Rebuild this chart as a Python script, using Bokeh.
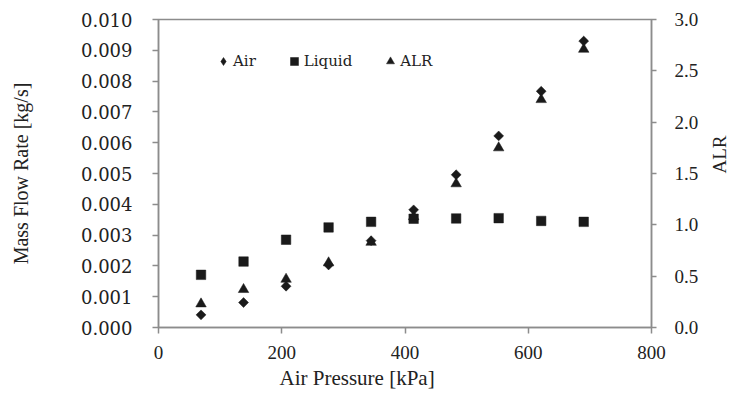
import math
from bokeh.plotting import figure
from bokeh.models import (Range1d, LinearAxis, FixedTicker, PrintfTickFormatter,
                          Legend, LegendItem, Title, ColumnDataSource)
from bokeh.embed import file_html
from bokeh.resources import INLINE

# ---- data ----
pressure = [69, 138, 207, 276, 345, 414, 483, 552, 621, 690]
air = [0.00041, 0.00081, 0.00134, 0.00203, 0.00282, 0.00382, 0.00496, 0.00622, 0.00767, 0.00930]
liquid = [0.00171, 0.00214, 0.00285, 0.00325, 0.00343, 0.00353, 0.00354, 0.00355, 0.00346, 0.00343]
alr = [0.23, 0.37, 0.47, 0.63, 0.83, 1.08, 1.40, 1.75, 2.22, 2.71]

x_ticks = [0, 200, 400, 600, 800]
left_ticks = [0.000, 0.001, 0.002, 0.003, 0.004, 0.005, 0.006, 0.007, 0.008, 0.009, 0.010]
right_ticks = [0.0, 0.5, 1.0, 1.5, 2.0, 2.5, 3.0]

x_title = "Air Pressure [kPa]"
y_title = "Mass Flow Rate [kg/s]"
y2_title = "ALR"
series_names = ["Air", "Liquid", "ALR"]

AX = "#8c8c8c"
INK = "#1a1a1a"
TXT = "#222222"
SERIF = "Liberation Serif"
SERIF2 = "DejaVu Serif"

p = figure(width=743, height=393, output_backend="svg", toolbar_location=None,
           x_range=Range1d(0, 800), y_range=Range1d(0, 0.010),
           min_border_left=158, min_border_right=85, min_border_top=19, min_border_bottom=66)
p.extra_y_ranges = {"alr": Range1d(0, 3.0)}
p.grid.visible = False
p.outline_line_color = AX
p.outline_line_width = 1.5
p.background_fill_color = "white"
p.border_fill_color = "white"

# bottom axis
xa = p.xaxis[0]
xa.ticker = FixedTicker(ticks=x_ticks)
xa.axis_line_color = AX
xa.axis_line_width = 1.5
xa.major_tick_line_color = AX
xa.major_tick_line_width = 1.5
xa.major_tick_in = 0
xa.major_tick_out = 6
xa.minor_tick_line_color = None
xa.major_label_text_font = SERIF
xa.major_label_text_font_size = "19px"
xa.major_label_text_color = TXT
xa.major_label_standoff = 12

# left axis
ya = p.yaxis[0]
ya.ticker = FixedTicker(ticks=left_ticks)
ya.formatter = PrintfTickFormatter(format="%.3f")
ya.axis_line_color = AX
ya.axis_line_width = 1.5
ya.major_tick_line_color = AX
ya.major_tick_line_width = 1.5
ya.major_tick_in = 0
ya.major_tick_out = 6
ya.minor_tick_line_color = None
ya.major_label_text_font = SERIF2
ya.major_label_text_font_size = "18px"
ya.major_label_text_color = TXT
ya.major_label_standoff = 20
ya.axis_label = y_title
ya.axis_label_text_font = SERIF
ya.axis_label_text_font_size = "20px"
ya.axis_label_text_font_style = "normal"
ya.axis_label_text_color = TXT
ya.axis_label_standoff = 46

# right axis
ra = LinearAxis(y_range_name="alr", ticker=FixedTicker(ticks=right_ticks),
                formatter=PrintfTickFormatter(format="%.1f"))
ra.axis_line_color = AX
ra.axis_line_width = 1.5
ra.major_tick_line_color = AX
ra.major_tick_line_width = 1.5
ra.major_tick_in = 0
ra.major_tick_out = 5
ra.minor_tick_line_color = None
ra.major_label_text_font = SERIF
ra.major_label_text_font_size = "19px"
ra.major_label_text_color = TXT
ra.major_label_standoff = 18
ra.axis_label = y2_title
ra.axis_label_text_font = SERIF
ra.axis_label_text_font_size = "19px"
ra.axis_label_text_font_style = "normal"
ra.axis_label_text_color = TXT
ra.axis_label_standoff = 18
if hasattr(ra, "axis_label_orientation"):
    ra.axis_label_orientation = math.pi / 2
p.add_layout(ra, "right")

# bottom title (off-centre, as in the reference)
p.add_layout(Title(text=x_title, align="left", offset=121, standoff=4,
                   text_font=SERIF, text_font_size="21px", text_font_style="normal",
                   text_color=TXT), "below")

# series
src = ColumnDataSource(dict(x=pressure, air=air, liq=liquid, alr=alr))
# diamond-shaped key for the legend (drawn under the Air markers)
r_air_key = p.scatter("x", "air", source=src, marker="diamond", size=6,
                      fill_color=INK, line_color=INK, line_width=0.5)
r_air = p.scatter("x", "air", source=src, marker="square", angle=math.pi / 4, size=7,
                  fill_color=INK, line_color=INK, line_width=0.5)
r_liq = p.scatter("x", "liq", source=src, marker="square", size=9.5,
                  fill_color=INK, line_color=INK, line_width=0.5)
r_alr = p.scatter("x", "alr", source=src, marker="triangle", size=10.5, y_range_name="alr",
                  fill_color=INK, line_color=INK, line_width=0.5)

legend = Legend(items=[LegendItem(label=series_names[0], renderers=[r_air_key]),
                       LegendItem(label=series_names[1], renderers=[r_liq]),
                       LegendItem(label=series_names[2], renderers=[r_alr])],
                orientation="horizontal", location=(55, 255),
                padding=0, margin=0, spacing=28, label_standoff=0,
                glyph_width=20, glyph_height=22, label_height=22,
                border_line_alpha=0, background_fill_alpha=0,
                label_text_font=SERIF2, label_text_font_size="15px",
                label_text_color=TXT)
p.add_layout(legend)

open("out.html", "w").write(file_html(p, INLINE))
